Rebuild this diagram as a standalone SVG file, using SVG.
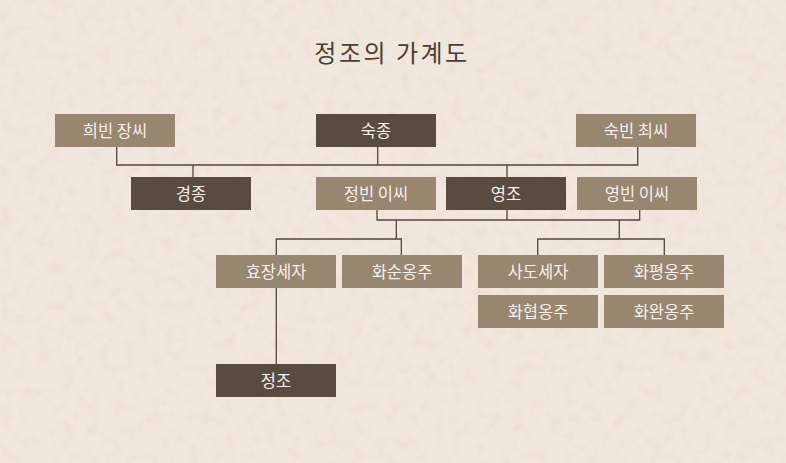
<svg xmlns="http://www.w3.org/2000/svg" width="786" height="463" viewBox="0 0 786 463">
<defs>
<filter id="paper" x="0" y="0" width="100%" height="100%">
<feTurbulence type="fractalNoise" baseFrequency="0.08" numOctaves="4" seed="3" result="n"/>
<feColorMatrix type="matrix" values="0 0 0 0 0.80  0 0 0 0 0.68  0 0 0 0 0.54  0 0 0 1.8 -0.85" in="n"/>
</filter>
<style>
.d{fill:#584b40}
.l{fill:#978670}
.t{font-family:"Noto Sans CJK KR","Noto Sans",sans-serif;font-size:16.5px;fill:#f6f0e8;text-anchor:middle}
.c{fill:none;stroke:#54463b;stroke-width:1.3}
</style>
</defs>
<rect width="786" height="463" fill="#f0e7dd"/>
<rect width="786" height="463" filter="url(#paper)" opacity="0.55"/>
<text x="392" y="62" font-family="'Noto Sans CJK KR','Noto Sans',sans-serif" font-size="24" letter-spacing="2.5" fill="#4a3f36" text-anchor="middle">정조의 가계도</text>
<g id="connectors" class="c">
<path d="M116.7 147V165H637.7V147M377.7 147V165M193 165V177M507 165V177"/>
<path d="M377 210V220H639.7V210M507 210V220"/>
<path d="M396.3 220V239M276.3 255V239H401.3V255"/>
<path d="M619.3 220V239M537.7 255V239H664.3V255"/>
<path d="M276.3 288V364"/>
</g>
<g id="n-huibin"><rect class="l" x="55" y="114" width="120" height="33"/><text class="t" x="115" y="136.5">희빈 장씨</text></g>
<g id="n-sukjong"><rect class="d" x="316" y="114" width="120" height="33"/><text class="t" x="376" y="136.5">숙종</text></g>
<g id="n-sukbin"><rect class="l" x="576" y="114" width="120" height="33"/><text class="t" x="636" y="136.5">숙빈 최씨</text></g>
<g id="n-gyeongjong"><rect class="d" x="131" y="177" width="120" height="33"/><text class="t" x="191" y="199.5">경종</text></g>
<g id="n-jeongbin"><rect class="l" x="316" y="177" width="120" height="33"/><text class="t" x="376" y="199.5">정빈 이씨</text></g>
<g id="n-yeongjo"><rect class="d" x="446" y="177" width="120" height="33"/><text class="t" x="506" y="199.5">영조</text></g>
<g id="n-yeongbin"><rect class="l" x="577" y="177" width="120" height="33"/><text class="t" x="637" y="199.5">영빈 이씨</text></g>
<g id="n-hyojang"><rect class="l" x="216" y="255" width="120" height="33"/><text class="t" x="276" y="277.5">효장세자</text></g>
<g id="n-hwasun"><rect class="l" x="342" y="255" width="120" height="33"/><text class="t" x="402" y="277.5">화순옹주</text></g>
<g id="n-sado"><rect class="l" x="478" y="255" width="120" height="33"/><text class="t" x="538" y="277.5">사도세자</text></g>
<g id="n-hwapyeong"><rect class="l" x="604" y="255" width="120" height="33"/><text class="t" x="664" y="277.5">화평옹주</text></g>
<g id="n-hwahyeop"><rect class="l" x="478" y="295" width="120" height="33"/><text class="t" x="538" y="317.5">화협옹주</text></g>
<g id="n-hwawan"><rect class="l" x="604" y="295" width="120" height="33"/><text class="t" x="664" y="317.5">화완옹주</text></g>
<g id="n-jeongjo"><rect class="d" x="216" y="364" width="120" height="33"/><text class="t" x="276" y="386.5">정조</text></g>
</svg>
